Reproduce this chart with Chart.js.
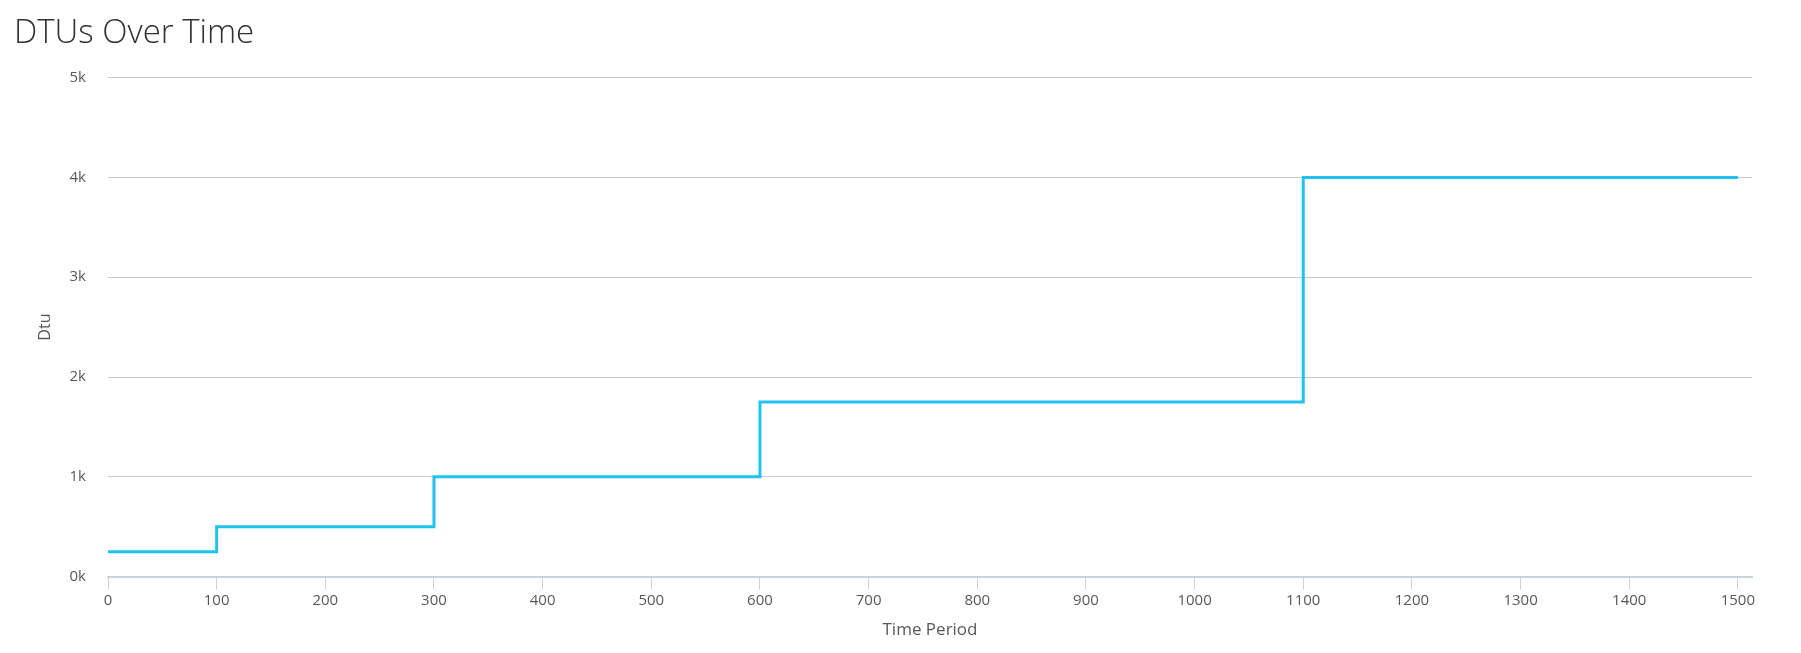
<!DOCTYPE html>
<html>
<head>
<meta charset="utf-8">
<script src="https://cdn.jsdelivr.net/npm/chart.js@4.4.1/dist/chart.umd.min.js"></script>
<style>
  html, body { margin: 0; padding: 0; background: #ffffff; }
  #wrap { position: relative; width: 1801px; height: 653px; }
</style>
</head>
<body>
<div id="wrap"><canvas id="c" width="1801" height="653"></canvas></div>
<script>
// Data
const chartTitle = "DTUs Over Time";
const xAxisTitle = "Time Period";
const yAxisTitle = "Dtu";
const timePeriods = [0, 100, 300, 600, 1100, 1500];
const dtuValues   = [250, 500, 1000, 1750, 4000, 4000];
const yTickValues = [0, 1000, 2000, 3000, 4000, 5000];
const yTickLabels = ["0k", "1k", "2k", "3k", "4k", "5k"];

const points = timePeriods.map((t, i) => ({ x: t, y: dtuValues[i] }));
const FONT = "'Open Sans', 'Noto Sans', sans-serif";

new Chart(document.getElementById('c'), {
  type: 'line',
  data: {
    datasets: [{
      label: 'Dtu',
      data: points,
      stepped: 'before',
      borderColor: '#1fc3f0',
      borderWidth: 3,
      pointRadius: 0,
      fill: false
    }]
  },
  options: {
    responsive: false,
    animation: false,
    layout: { padding: { left: 14, right: 49, top: 0, bottom: 13 } },
    plugins: {
      legend: { display: false },
      tooltip: { enabled: false },
      title: {
        display: true,
        text: chartTitle,
        align: 'start',
        color: '#323130',
        font: { family: FONT, size: 33, weight: '300' },
        padding: { top: 14, bottom: 24 }
      }
    },
    scales: {
      x: {
        type: 'linear',
        min: 0,
        max: 1513,
        border: { display: true, color: '#c8d3de', width: 2 },
        grid: { drawOnChartArea: false, drawTicks: true, tickLength: 13, color: '#c8d3de' },
        ticks: {
          stepSize: 100,
          includeBounds: false,
          color: '#5a5856',
          font: { family: FONT, size: 15 },
          padding: 2,
          maxRotation: 0,
          callback: (v) => String(v)
        },
        title: {
          display: true,
          text: xAxisTitle,
          color: '#5a5856',
          font: { family: FONT, size: 17 },
          padding: { top: 8, bottom: 0 }
        }
      },
      y: {
        min: 0,
        max: 5000,
        afterBuildTicks: (scale) => { scale.ticks = yTickValues.map(v => ({ value: v })); },
        afterFit: (scale) => { scale.width = 94; },
        border: { display: false },
        grid: { color: '#c8c8c8', lineWidth: 1, drawTicks: false },
        ticks: {
          color: '#5a5856',
          font: { family: FONT, size: 15 },
          padding: 22,
          callback: (v) => yTickLabels[yTickValues.indexOf(v)]
        },
        title: {
          display: true,
          text: yAxisTitle,
          color: '#5a5856',
          font: { family: FONT, size: 16 },
          padding: { top: 22, bottom: 14 }
        }
      }
    }
  }
});
</script>
</body>
</html>
